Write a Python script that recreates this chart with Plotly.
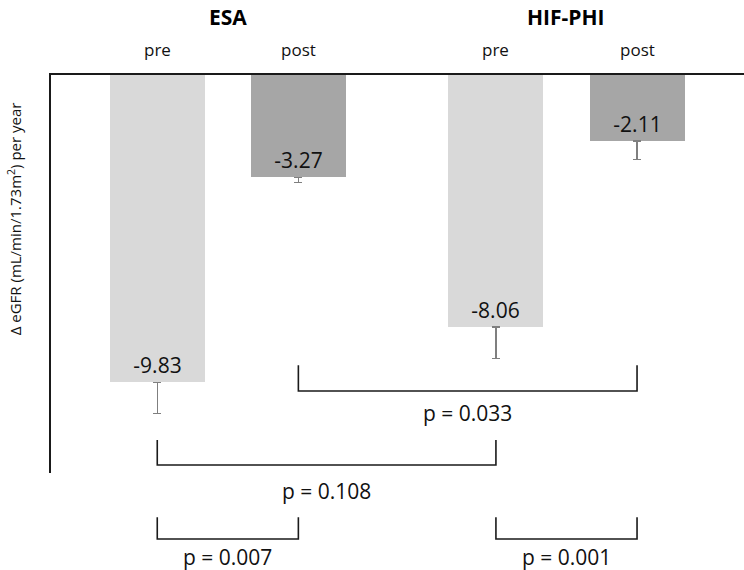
import plotly.graph_objects as go

# ---- data ----
groups = ["ESA", "HIF-PHI"]
phases = ["pre", "post"]
values = [-9.83, -3.27, -8.06, -2.11]          # ESA pre, ESA post, HIF-PHI pre, HIF-PHI post
errors = [1.00, 0.16, 1.00, 0.58]
comparisons = [(1, 3, "p = 0.033"), (0, 2, "p = 0.108"), (0, 1, "p = 0.007"), (2, 3, "p = 0.001")]
y_title = "Δ eGFR (mL/min/1.73m<sup>2</sup>) per year"

# ---- layout helpers ----
group_step = 2.4
pos = [g * group_step + p for g in range(len(groups)) for p in range(len(phases))]
colors = ["#d9d9d9", "#a6a6a6"] * len(groups)
FONT = "Open Sans"

fig = go.Figure()
fig.add_trace(go.Bar(
    x=pos, y=values, width=0.673,
    marker=dict(color=colors, line=dict(width=0)),
    text=[f"{v:.2f}" for v in values],
    textposition="inside", insidetextanchor="end", textangle=0,
    constraintext="none",
    textfont=dict(family=FONT, size=21, color="#111111"),
    error_y=dict(type="data", symmetric=False, array=[0] * len(values),
                 arrayminus=errors, color="#7f7f7f", thickness=1.2, width=4),
    hoverinfo="skip", showlegend=False,
))

shapes = []
annotations = []
# bracket levels: (vertical top, horizontal, label) in paper coords
levels = [(0.271, 0.206, 0.150), (0.083, 0.020, -0.045), (-0.111, -0.166, -0.212), (-0.111, -0.166, -0.212)]
for (a, b, label), (top, bot, ly) in zip(comparisons, levels):
    xa, xb = pos[a], pos[b]
    shapes.append(dict(type="path", xref="x", yref="paper",
                       path=f"M {xa},{top} L {xa},{bot} L {xb},{bot} L {xb},{top}",
                       line=dict(color="#1a1a1a", width=1.6)))
    annotations.append(dict(x=(xa + xb) / 2, y=ly, xref="x", yref="paper", text=label,
                            showarrow=False, xanchor="center", yanchor="middle",
                            font=dict(family=FONT, size=21, color="#111111")))

for g, name in enumerate(groups):
    gx = [pos[g * len(phases) + p] for p in range(len(phases))]
    annotations.append(dict(x=sum(gx) / len(gx), y=1.186, xref="x", yref="paper",
                            text=f"<b>{name}</b>", showarrow=False, yanchor="top",
                            font=dict(family=FONT, size=21, color="#000000")))
    for p, ph in enumerate(phases):
        annotations.append(dict(x=gx[p], y=1.063, xref="x", yref="paper", text=ph,
                                showarrow=False, yanchor="middle",
                                font=dict(family=FONT, size=17, color="#111111")))

annotations.append(dict(x=-0.053, y=0.638, xref="paper", yref="paper", text=y_title,
                        textangle=-90, showarrow=False, xanchor="center", yanchor="middle",
                        font=dict(family=FONT, size=15, color="#111111")))

fig.update_layout(
    width=744, height=570,
    margin=dict(l=51, r=0, t=75, b=97, pad=0),
    paper_bgcolor="white", plot_bgcolor="white",
    xaxis=dict(range=[-0.753, 4.158], side="top", showline=True, linecolor="#1a1a1a",
               linewidth=1.6, showticklabels=False, ticks="", showgrid=False, zeroline=False,
               fixedrange=True),
    yaxis=dict(range=[-12.73, 0], showline=True, linecolor="#1a1a1a", linewidth=1.6,
               showticklabels=False, ticks="", showgrid=False, zeroline=False, fixedrange=True),
    shapes=shapes, annotations=annotations,
    bargap=0,
)

fig.write_html("out.html")
